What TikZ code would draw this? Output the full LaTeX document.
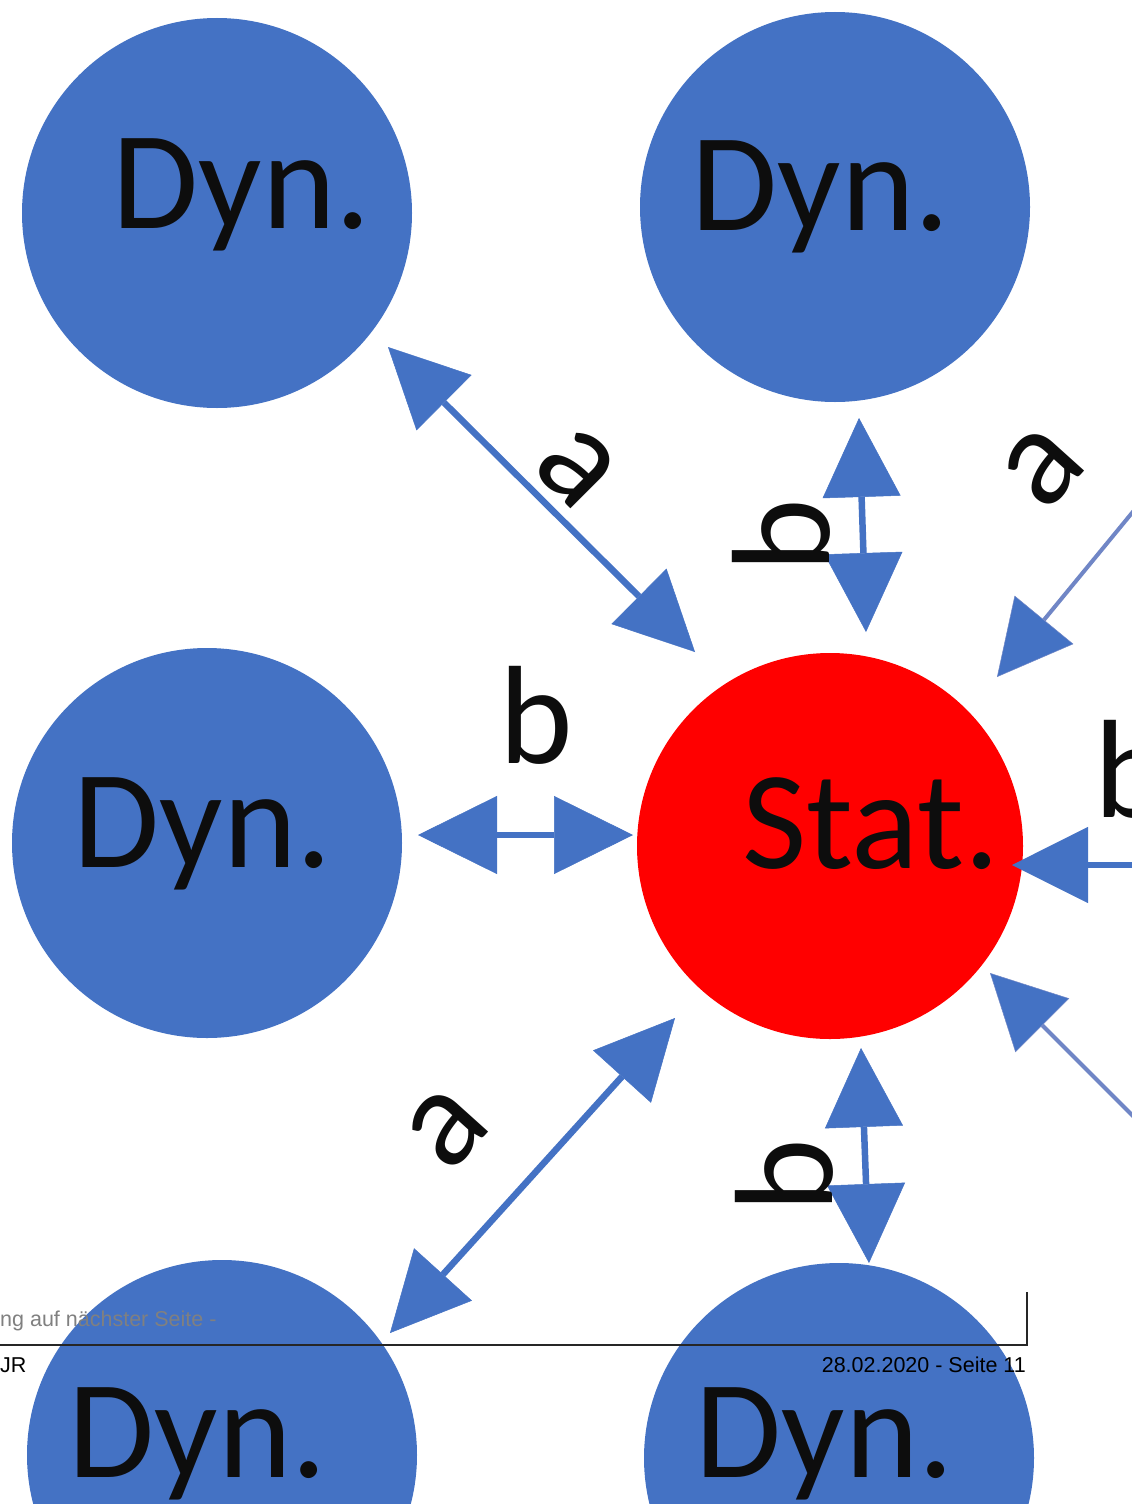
\documentclass[tikz,border=0pt]{standalone}
\usepackage{fontspec}
\setmainfont{Carlito}
\newfontfamily\footfont{Liberation Sans}
\usetikzlibrary{arrows.meta}
\definecolor{dynblue}{HTML}{4472C4}
\definecolor{statred}{HTML}{FF0000}
\definecolor{thinblue}{RGB}{112,134,198}
\definecolor{footgray}{HTML}{808080}
\begin{document}
\begin{tikzpicture}[x=1pt,y=-1pt,
  dyn/.style={circle,fill=dynblue,minimum size=390pt,inner sep=0pt},
  stat/.style={circle,fill=statred,minimum size=386pt,inner sep=0pt},
  big/.style={font=\fontsize{140}{140}\selectfont,text=black!95,inner sep=0pt},
  foot/.style={font=\footfont\fontsize{21.5}{21.5}\selectfont,inner sep=0pt},
  head/.style={Triangle[length=79pt,width=78pt,line width=0.5pt]},
  both/.style={draw=dynblue,line width=6.5pt,{Triangle[length=79pt,width=78pt,line width=0.5pt]}-{Triangle[length=79pt,width=78pt,line width=0.5pt]}},
  single/.style={draw=dynblue,line width=6.5pt,-{Triangle[length=76pt,width=76pt,line width=0.5pt]}},
  thinsingle/.style={draw=thinblue,line width=4pt,-{Triangle[length=74pt,width=76pt,line width=0.5pt,fill=dynblue]}},
]
\useasboundingbox (0,0) rectangle (1132,1504);
\clip (0,0) rectangle (1132,1504);
\fill[white] (0,0) rectangle (1132,1504);

% circles
\node[dyn] (tl) at (217,213) {};
\node[dyn] (tr) at (835,207) {};
\node[dyn] (ml) at (207,843) {};
\node[stat] (st) at (830,846) {};
\node[dyn] (bl) at (222,1455) {};
\node[dyn] (br) at (839,1458) {};

% arrow end points
\coordinate (a1s) at (388,347);  \coordinate (a1e) at (695,652);
\coordinate (a2s) at (859,418);  \coordinate (a2e) at (866,632);
\coordinate (a3s) at (418,835);  \coordinate (a3e) at (633,835);
\coordinate (a4s) at (1145,865); \coordinate (a4e) at (1012,865);
\coordinate (a5s) at (1150,491); \coordinate (a5e) at (997,677);
\coordinate (a6s) at (1150,1133);\coordinate (a6e) at (990,973);
\coordinate (a7s) at (675,1018); \coordinate (a7e) at (390,1333);
\coordinate (a8s) at (861,1048); \coordinate (a8e) at (869,1263);

% connectors
\draw[both] (a1s) -- (a1e);
\draw[both] (a2s) -- (a2e);
\draw[both] (a3s) -- (a3e);
\draw[single] (a4s) -- (a4e);
\draw[thinsingle] (a5s) -- (a5e);
\draw[thinsingle] (a6s) -- (a6e);
\draw[both] (a7s) -- (a7e);
\draw[both] (a8s) -- (a8e);

% circle texts
\node[big,anchor=base] (tltxt) at (242,228) {Dyn.};
\node[big,anchor=base] (trtxt) at (821,230) {Dyn.};
\node[big,anchor=base] (mltxt) at (203,867) {Dyn.};
\node[big,anchor=base] (sttxt) at (871,868) {Stat.};
\node[big,anchor=base] (bltxt) at (198,1477) {Dyn.};
\node[big,anchor=base] (brtxt) at (825,1477) {Dyn.};

% connector labels
\node[big,rotate=-45] (la1) at (577,468) {a};
\node[big,rotate=90,anchor=base] (lb2) at (829,536) {b};
\node[big,anchor=base] (lb3) at (536,763) {b};
\node[big,anchor=base] (lb4) at (1131,817) {b};
\node[big,rotate=48] (la5) at (1043,467) {a};
\node[big,rotate=48] (la7) at (447,1128) {a};
\node[big,rotate=90,anchor=base] (lb8) at (832,1176) {b};

% footer overlay
\coordinate (fl) at (0,1345);
\coordinate (fc) at (1027,1345);
\coordinate (ft) at (1027,1292);
\draw[black!85,line width=1.3pt] (fl) -- (fc) -- (ft);
\node[foot,text=footgray,anchor=base west] (ftx1) at (0,1326) {ng auf nächster Seite -};
\node[foot,anchor=base west] (ftx2) at (0,1372) {JR};
\node[foot,anchor=base east] (ftx3) at (1026,1372) {28.02.2020 - Seite 11};
\end{tikzpicture}
\end{document}
